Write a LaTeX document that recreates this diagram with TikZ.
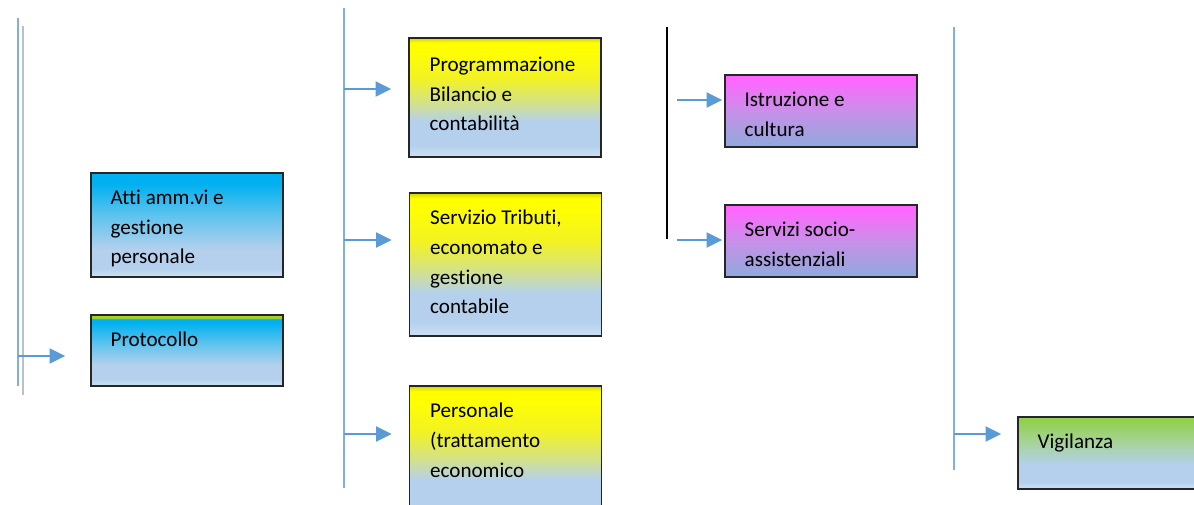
\documentclass[tikz,border=0pt]{standalone}
\usepackage{fontspec}
\setmainfont[Ligatures={NoCommon}]{Carlito}
\usetikzlibrary{arrows.meta,calc}
\definecolor{lnblue}{HTML}{5B9BD5}
\definecolor{lnblueL}{HTML}{7FB0E0}
\definecolor{lngray}{HTML}{BFBFBF}
\definecolor{cyanT}{HTML}{00B0F0}
\definecolor{cyanM}{HTML}{5CC3EE}
\definecolor{lbA}{HTML}{B4D0EC}
\definecolor{lbB}{HTML}{CFE1F4}
\definecolor{yelD}{HTML}{D4D400}
\definecolor{yelT}{HTML}{FFFF00}
\definecolor{yelM}{HTML}{F2F224}
\definecolor{yelG}{HTML}{D4E286}
\definecolor{magT}{HTML}{FF66FF}
\definecolor{magM}{HTML}{C890E8}
\definecolor{magB}{HTML}{8EAADC}
\definecolor{grnT}{HTML}{92D050}
\definecolor{grnM}{HTML}{A6D396}
\definecolor{grnY}{HTML}{A8D020}
\pgfdeclareverticalshading{cyansh}{100bp}{color(0bp)=(lbB); color(25bp)=(lbB); color(29bp)=(lbA); color(38bp)=(lbA); color(55bp)=(cyanM); color(70bp)=(cyanT); color(100bp)=(cyanT)}
\pgfdeclareverticalshading{protosh}{100bp}{color(0bp)=(lbB); color(25bp)=(lbB); color(30bp)=(lbA); color(40bp)=(lbA); color(55bp)=(cyanM); color(70bp)=(cyanT); color(72bp)=(cyanT); color(73bp)=(grnY); color(75bp)=(grnY); color(100bp)=(grnY)}
\pgfdeclareverticalshading{yelsh}{100bp}{color(0bp)=(lbB); color(25bp)=(lbB); color(30bp)=(lbA); color(40bp)=(lbA); color(48bp)=(yelG); color(58bp)=(yelM); color(70bp)=(yelT); color(73bp)=(yelT); color(75bp)=(yelD); color(100bp)=(yelD)}
\pgfdeclareverticalshading{magsh}{100bp}{color(0bp)=(magB); color(25bp)=(magB); color(50bp)=(magM); color(72bp)=(magT); color(100bp)=(magT)}
\pgfdeclareverticalshading{grnsh}{100bp}{color(0bp)=(lbB); color(25bp)=(lbB); color(30bp)=(lbA); color(42bp)=(lbA); color(58bp)=(grnM); color(72bp)=(grnT); color(100bp)=(grnT)}
\tikzset{
  box/.style={draw=black!85, line width=0.8pt, rectangle, inner sep=0pt, minimum width=3.84cm},
  txt/.style={anchor=north west, inner sep=0pt, align=left, font=\fontsize{12}{17}\selectfont},
  vline/.style={draw=lnblueL, line width=0.7pt},
  arr/.style={draw=lnblue, line width=1.3pt, -{Triangle[length=9pt,width=8.5pt]}},
}
\begin{document}
\begin{tikzpicture}[x=0.02cm,y=-0.02cm]
\useasboundingbox (0,0) rectangle (1194,504);
\clip (0,0) rectangle (1194,504);
% vertical lines
\draw[vline] (18,18) -- (18,386);
\draw[draw=lngray, line width=1.6pt] (23,26) -- (23,395);
\draw[vline] (344,8) -- (344,488);
\draw[black, line width=1.1pt] (667,27) -- (667,239);
\draw[vline] (954,27) -- (954,470);
% boxes
\node[box, shading=cyansh, minimum height=2.08cm] (atti) at (187,225) {};
\node[box, shading=protosh, minimum height=1.42cm] (proto) at (187,350.5) {};
\node[box, shading=yelsh, minimum height=2.38cm] (prog) at (505,97.5) {};
\node[box, shading=yelsh, minimum height=2.86cm] (serv) at (505.5,264.5) {};
\node[box, shading=yelsh, minimum height=2.68cm] (pers) at (505.5,453) {};
\node[box, shading=magsh, minimum height=1.44cm] (istr) at (821,111) {};
\node[box, shading=magsh, minimum height=1.44cm] (soc) at (821,241) {};
\node[box, shading=grnsh, minimum height=1.44cm] (vig) at (1114,453) {};
% texts
\node[txt] (attit) at ([shift={(20,17)}]atti.north west) {Atti amm.vi e\\gestione\\personale};
\node[txt] (protot) at ([shift={(20,17)}]proto.north west) {Protocollo};
\node[txt] (progt) at ([shift={(21,19)}]prog.north west) {Programmazione\\Bilancio e\\contabilità};
\node[txt] (servt) at ([shift={(21,17)}]serv.north west) {Servizio Tributi,\\economato e\\gestione\\contabile};
\node[txt] (perst) at ([shift={(21,17)}]pers.north west) {Personale\\(trattamento\\economico};
\node[txt] (istrt) at ([shift={(20,17)}]istr.north west) {Istruzione e\\cultura};
\node[txt] (soct) at ([shift={(20,17)}]soc.north west) {Servizi socio-\\assistenziali};
\node[txt] (vigt) at ([shift={(20,17)}]vig.north west) {Vigilanza};
% arrow start points
\coordinate (s1) at (18,356);
\coordinate (s2) at (344,89);
\coordinate (s3) at (344,240);
\coordinate (s4) at (344,434);
\coordinate (s5) at (677,100);
\coordinate (s6) at (677,240);
\coordinate (s7) at (954,434);
\draw[arr, shorten >=25*0.02cm] (s1) -- (s1 -| proto.west);
\draw[arr, shorten >=17*0.02cm] (s2) -- (s2 -| prog.west);
\draw[arr, shorten >=17*0.02cm] (s3) -- (s3 -| serv.west);
\draw[arr, shorten >=17*0.02cm] (s4) -- (s4 -| pers.west);
\draw[arr, shorten >=2*0.02cm] (s5) -- (s5 -| istr.west);
\draw[arr, shorten >=2*0.02cm] (s6) -- (s6 -| soc.west);
\draw[arr, shorten >=16*0.02cm] (s7) -- (s7 -| vig.west);
\end{tikzpicture}
\end{document}
